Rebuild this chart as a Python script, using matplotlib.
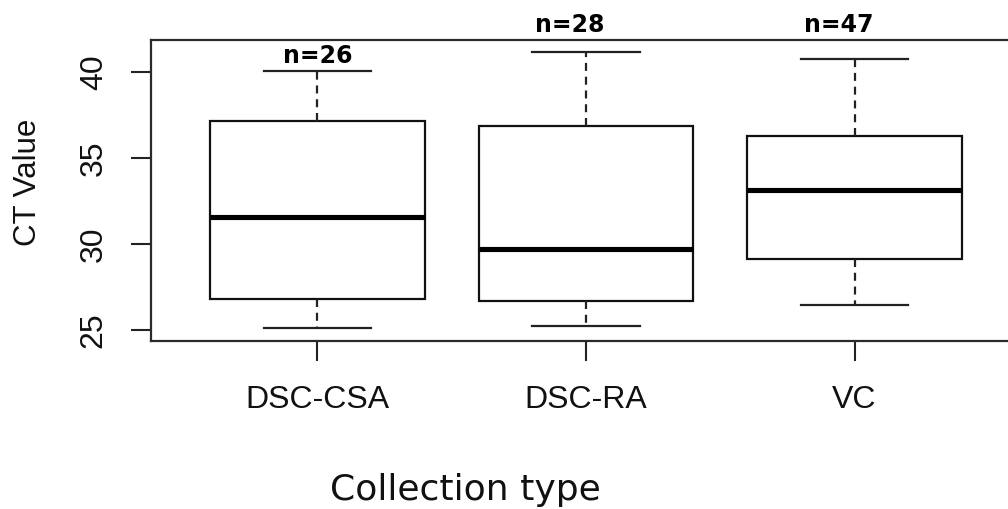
import matplotlib
matplotlib.use("Agg")
import matplotlib.pyplot as plt

plt.rcParams["font.family"] = ["Liberation Sans", "DejaVu Sans"]

# values
categories = ["DSC-CSA", "DSC-RA", "VC"]
whisker_low = [25.12, 25.21, 26.45]
q1 = [26.8, 26.69, 29.15]
medians = [31.57, 29.73, 33.12]
q3 = [37.15, 36.88, 36.28]
whisker_high = [40.06, 41.14, 40.77]
counts = [26, 28, 47]
count_y = [40.93, 42.73, 42.73]
count_x = [1.0, 1.94, 2.94]

stats = []
for i, cat in enumerate(categories):
    stats.append({
        "label": cat,
        "whislo": whisker_low[i],
        "q1": q1[i],
        "med": medians[i],
        "q3": q3[i],
        "whishi": whisker_high[i],
        "fliers": [],
    })

fig = plt.figure(figsize=(10.08, 5.09), dpi=100)
ax = fig.add_axes([151 / 1008, 1 - 341 / 509, 870 / 1008, 301 / 509])

ax.bxp(
    stats,
    positions=[1, 2, 3],
    widths=0.8,
    patch_artist=True,
    showfliers=False,
    boxprops=dict(facecolor="white", edgecolor="#111111", linewidth=1.6),
    medianprops=dict(color="black", linewidth=3.7, solid_capstyle="butt"),
    whiskerprops=dict(color="#222222", linewidth=1.6, dashes=(3.6, 2.6)),
    capprops=dict(color="#222222", linewidth=1.6),
    capwidths=0.4,
)

ax.set_xlim(0.38, 3.62)
ax.set_ylim(24.36, 41.86)
ax.set_yticks([25, 30, 35, 40])
ax.set_xticks([1, 2, 3])
ax.set_xticklabels(categories)

for s in ax.spines.values():
    s.set_linewidth(1.6)
    s.set_color("#2a2a2a")

ax.tick_params(axis="both", length=14.4, width=1.5, color="#222222",
               labelsize=23, labelcolor="#111111")
ax.tick_params(axis="x", pad=17)
ax.tick_params(axis="y", pad=16)
for lbl in ax.get_yticklabels():
    lbl.set_rotation(90)
    lbl.set_va("center")

for x, y, n in zip(count_x, count_y, counts):
    ax.text(x, y, f"n={n}", ha="center", va="center", fontsize=17,
            fontweight="bold", family="DejaVu Sans", clip_on=False)

fig.text(28 / 1008, 1 - 182 / 509, "CT Value", rotation=90, ha="center",
         va="center", fontsize=22.5, color="#111111")
fig.text(465 / 1008, 9 / 509, "Collection type", ha="center", va="baseline",
         fontsize=26, family="DejaVu Sans", color="#111111")

fig.savefig("out.png", dpi=100)
